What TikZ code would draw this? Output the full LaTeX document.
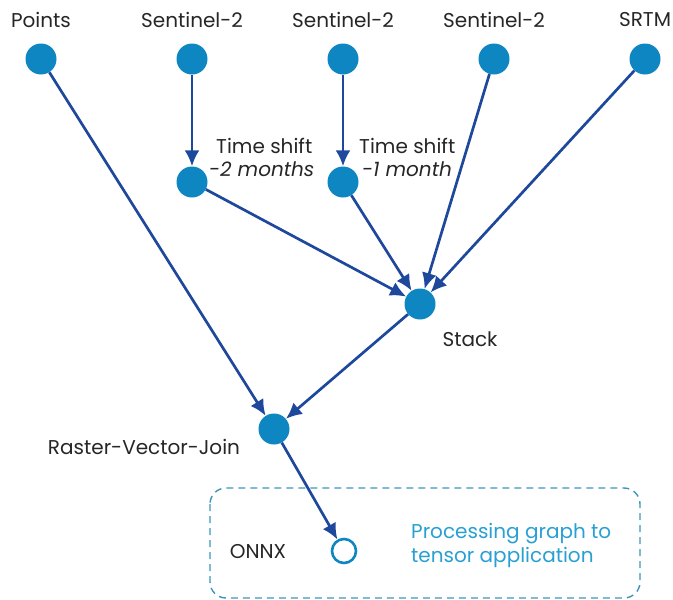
\documentclass[tikz,border=0pt]{standalone}
\usepackage{fontspec}
\setmainfont{Poppins}
\usetikzlibrary{arrows.meta}
\definecolor{nodeblue}{RGB}{14,134,193}
\definecolor{arrowblue}{RGB}{30,72,155}
\definecolor{boxblue}{RGB}{60,150,185}
\definecolor{textblue}{RGB}{40,160,210}
\begin{document}
\begin{tikzpicture}[x=1pt,y=-1pt,
  dot/.style={circle,fill=nodeblue,minimum size=31pt,inner sep=0pt},
  hollow/.style={circle,draw=nodeblue,line width=2.6pt,fill=white,minimum size=24pt,inner sep=0pt},
  lbl/.style={font=\fontsize{20}{24}\selectfont,text=black!85,inner sep=0pt},
  conn/.style={draw=arrowblue,line width=2.7pt,-{Latex[length=16pt,width=15pt]}}]
\useasboundingbox (0,0) rectangle (673,600);
% dashed box
\draw[boxblue,line width=1.4pt,dash pattern=on 7pt off 5pt,rounded corners=16pt] (210,488) rectangle (640,598);
% nodes
\node[dot] (p) at (41,59) {};
\node[dot] (s1) at (192,59) {};
\node[dot] (s2) at (343,59) {};
\node[dot] (s3) at (494,59) {};
\node[dot] (srtm) at (645,59) {};
\node[dot] (t1) at (192,182) {};
\node[dot] (t2) at (343,182) {};
\node[dot] (st) at (420,304) {};
\node[dot] (rvj) at (274,429) {};
\node[hollow] (onnx) at (344,551) {};
% labels
\node[lbl] (lp) at (41,20) {Points};
\node[lbl] (ls1) at (192,20) {Sentinel-2};
\node[lbl] (ls2) at (343,20) {Sentinel-2};
\node[lbl] (ls3) at (494,20) {Sentinel-2};
\node[lbl] (lsrtm) at (645,20) {SRTM};
\node[lbl,align=left,anchor=west] (lt1) at (209,157) {\hspace*{7pt}Time shift\\[-1pt]\textit{-2 months}};
\node[lbl,align=left,anchor=west] (lt2) at (359,157) {Time shift\\[-1pt]\hspace*{3pt}\textit{-1 month}};
\node[lbl] (lst) at (470,339) {Stack};
\node[lbl] (lrvj) at (144,447) {Raster-Vector-Join};
\node[lbl] (lonnx) at (258,552) {ONNX};
\node[lbl,text=textblue,align=left,anchor=west] (lproc) at (411,545) {Processing graph to\\[0pt]tensor application};
% connectors
\draw[conn] (p) -- (rvj);
\draw[conn] (s1) -- (t1);
\draw[conn] (s2) -- (t2);
\draw[conn] (s3) -- (st);
\draw[conn] (srtm) -- (st);
\draw[conn] (t1) -- (st);
\draw[conn] (t2) -- (st);
\draw[conn] (st) -- (rvj);
\draw[conn] (rvj) -- (onnx);
\end{tikzpicture}
\end{document}
